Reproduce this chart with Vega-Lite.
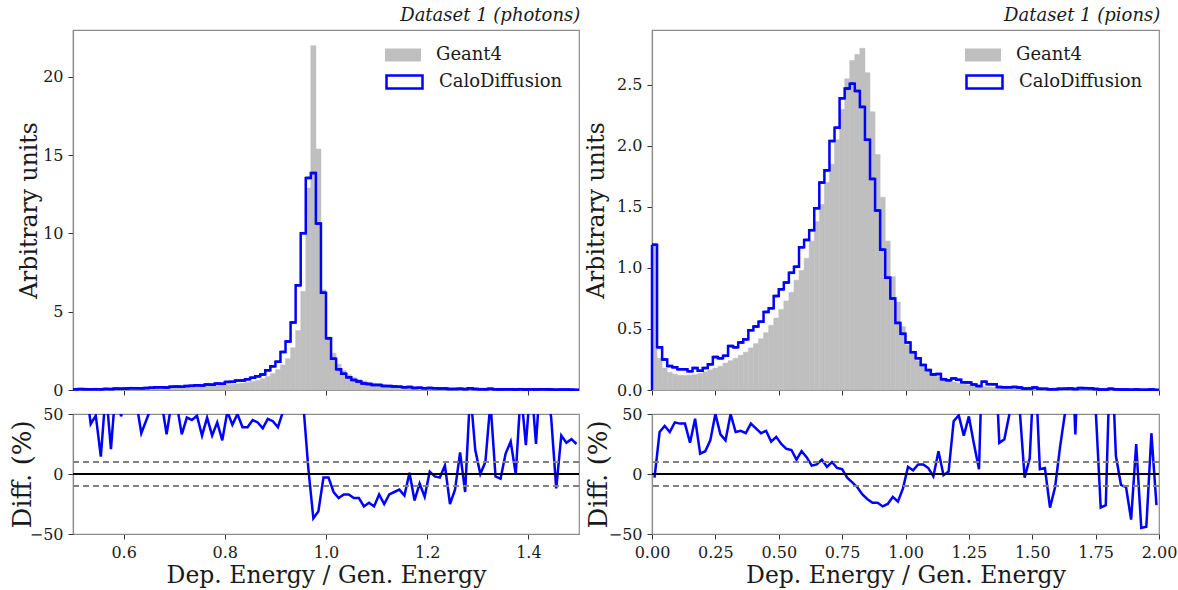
{
  "$schema": "https://vega.github.io/schema/vega-lite/v6.json",
  "padding": {"left": 8, "top": 6, "right": 4, "bottom": 4},
  "background": "white",
  "config": {
    "font": "DejaVu Serif",
    "view": {"stroke": "#8c8c8c", "strokeWidth": 1.2},
    "axis": {"grid": false, "labelFlush": false, "domainColor": "#8c8c8c", "domainWidth": 1.2, "tickColor": "#333333", "tickSize": 5, "tickWidth": 1, "labelFont": "DejaVu Serif", "labelFontSize": 16, "labelColor": "#1a1a1a", "labelPadding": 5, "titleFont": "DejaVu Serif", "titleFontSize": 23.5, "titleFontWeight": "normal", "titleColor": "#1a1a1a"},
    "title": {"font": "DejaVu Serif", "fontSize": 18, "fontStyle": "italic", "fontWeight": "normal", "anchor": "end", "color": "#1a1a1a", "offset": 5},
    "legend": {"orient": "top-right", "offset": 16, "padding": 0, "title": null, "labelFont": "DejaVu Serif", "labelFontSize": 18, "labelColor": "#1a1a1a", "labelOffset": 24, "rowPadding": 8.5, "symbolType": "M-2,-0.72H2V0.72H-2Z", "symbolSize": 324,
      "layout": {"direction": "vertical", "margin": 7.5, "top-right": {"direction": "vertical", "margin": 7.5}}}
  },
  "datasets": {
    "ph_hist": [
      {"x0":0.50,"x1":0.51,"g4":0.026,"calo":0.049},{"x0":0.51,"x1":0.52,"g4":0.028,"calo":0.056},{"x0":0.52,"x1":0.53,"g4":0.030,"calo":0.053},{"x0":0.53,"x1":0.54,"g4":0.033,"calo":0.047},{"x0":0.54,"x1":0.55,"g4":0.036,"calo":0.053},
      {"x0":0.55,"x1":0.56,"g4":0.039,"calo":0.045},{"x0":0.56,"x1":0.57,"g4":0.042,"calo":0.071},{"x0":0.57,"x1":0.58,"g4":0.046,"calo":0.056},{"x0":0.58,"x1":0.59,"g4":0.050,"calo":0.088},{"x0":0.59,"x1":0.60,"g4":0.055,"calo":0.081},
      {"x0":0.60,"x1":0.61,"g4":0.060,"calo":0.099},{"x0":0.61,"x1":0.62,"g4":0.066,"calo":0.119},{"x0":0.62,"x1":0.63,"g4":0.072,"calo":0.115},{"x0":0.63,"x1":0.64,"g4":0.078,"calo":0.105},{"x0":0.64,"x1":0.65,"g4":0.085,"calo":0.123},
      {"x0":0.65,"x1":0.66,"g4":0.092,"calo":0.144},{"x0":0.66,"x1":0.67,"g4":0.100,"calo":0.170},{"x0":0.67,"x1":0.68,"g4":0.110,"calo":0.176},{"x0":0.68,"x1":0.69,"g4":0.120,"calo":0.160},{"x0":0.69,"x1":0.70,"g4":0.130,"calo":0.208},
      {"x0":0.70,"x1":0.71,"g4":0.140,"calo":0.221},{"x0":0.71,"x1":0.72,"g4":0.155,"calo":0.206},{"x0":0.72,"x1":0.73,"g4":0.170,"calo":0.250},{"x0":0.73,"x1":0.74,"g4":0.185,"calo":0.268},{"x0":0.74,"x1":0.75,"g4":0.200,"calo":0.297},
      {"x0":0.75,"x1":0.76,"g4":0.220,"calo":0.290},{"x0":0.76,"x1":0.77,"g4":0.240,"calo":0.353},{"x0":0.77,"x1":0.78,"g4":0.260,"calo":0.343},{"x0":0.78,"x1":0.79,"g4":0.285,"calo":0.408},{"x0":0.79,"x1":0.80,"g4":0.310,"calo":0.397},
      {"x0":0.80,"x1":0.81,"g4":0.340,"calo":0.517},{"x0":0.81,"x1":0.82,"g4":0.370,"calo":0.522},{"x0":0.82,"x1":0.83,"g4":0.400,"calo":0.600},{"x0":0.83,"x1":0.84,"g4":0.440,"calo":0.612},{"x0":0.84,"x1":0.85,"g4":0.490,"calo":0.681},
      {"x0":0.85,"x1":0.86,"g4":0.540,"calo":0.783},{"x0":0.86,"x1":0.87,"g4":0.610,"calo":0.872},{"x0":0.87,"x1":0.88,"g4":0.720,"calo":0.994},{"x0":0.88,"x1":0.89,"g4":0.860,"calo":1.256},{"x0":0.89,"x1":0.90,"g4":1.050,"calo":1.512},
      {"x0":0.90,"x1":0.91,"g4":1.300,"calo":1.807},{"x0":0.91,"x1":0.92,"g4":1.600,"calo":2.432},{"x0":0.92,"x1":0.93,"g4":2.000,"calo":3.100},{"x0":0.93,"x1":0.94,"g4":2.700,"calo":4.320},{"x0":0.94,"x1":0.95,"g4":3.800,"calo":6.690},
      {"x0":0.95,"x1":0.96,"g4":6.300,"calo":10.02},{"x0":0.96,"x1":0.97,"g4":12.90,"calo":13.55},{"x0":0.97,"x1":0.98,"g4":22.00,"calo":13.86},{"x0":0.98,"x1":0.99,"g4":15.40,"calo":10.63},{"x0":0.99,"x1":1.00,"g4":6.400,"calo":6.210},
      {"x0":1.00,"x1":1.01,"g4":3.400,"calo":3.300},{"x0":1.01,"x1":1.02,"g4":2.350,"calo":2.000},{"x0":1.02,"x1":1.03,"g4":1.650,"calo":1.320},{"x0":1.03,"x1":1.04,"g4":1.250,"calo":1.040},{"x0":1.04,"x1":1.05,"g4":0.980,"calo":0.810},
      {"x0":1.05,"x1":1.06,"g4":0.800,"calo":0.640},{"x0":1.06,"x1":1.07,"g4":0.680,"calo":0.544},{"x0":1.07,"x1":1.08,"g4":0.580,"calo":0.423},{"x0":1.08,"x1":1.09,"g4":0.500,"calo":0.380},{"x0":1.09,"x1":1.10,"g4":0.440,"calo":0.321},
      {"x0":1.10,"x1":1.11,"g4":0.390,"calo":0.324},{"x0":1.11,"x1":1.12,"g4":0.340,"calo":0.255},{"x0":1.12,"x1":1.13,"g4":0.300,"calo":0.249},{"x0":1.13,"x1":1.14,"g4":0.270,"calo":0.230},{"x0":1.14,"x1":1.15,"g4":0.240,"calo":0.209},
      {"x0":1.15,"x1":1.16,"g4":0.210,"calo":0.172},{"x0":1.16,"x1":1.17,"g4":0.190,"calo":0.192},{"x0":1.17,"x1":1.18,"g4":0.170,"calo":0.133},{"x0":1.18,"x1":1.19,"g4":0.155,"calo":0.143},{"x0":1.19,"x1":1.20,"g4":0.140,"calo":0.113},
      {"x0":1.20,"x1":1.21,"g4":0.127,"calo":0.130},{"x0":1.21,"x1":1.22,"g4":0.115,"calo":0.113},{"x0":1.22,"x1":1.23,"g4":0.105,"calo":0.102},{"x0":1.23,"x1":1.24,"g4":0.096,"calo":0.103},{"x0":1.24,"x1":1.25,"g4":0.088,"calo":0.066},
      {"x0":1.25,"x1":1.26,"g4":0.080,"calo":0.070},{"x0":1.26,"x1":1.27,"g4":0.073,"calo":0.086},{"x0":1.27,"x1":1.28,"g4":0.067,"calo":0.057},{"x0":1.28,"x1":1.29,"g4":0.062,"calo":0.105},{"x0":1.29,"x1":1.30,"g4":0.057,"calo":0.068},
      {"x0":1.30,"x1":1.31,"g4":0.053,"calo":0.053},{"x0":1.31,"x1":1.32,"g4":0.049,"calo":0.054},{"x0":1.32,"x1":1.33,"g4":0.046,"calo":0.074},{"x0":1.33,"x1":1.34,"g4":0.043,"calo":0.042},{"x0":1.34,"x1":1.35,"g4":0.040,"calo":0.038},
      {"x0":1.35,"x1":1.36,"g4":0.037,"calo":0.043},{"x0":1.36,"x1":1.37,"g4":0.035,"calo":0.044},{"x0":1.37,"x1":1.38,"g4":0.033,"calo":0.033},{"x0":1.38,"x1":1.39,"g4":0.031,"calo":0.053},{"x0":1.39,"x1":1.40,"g4":0.029,"calo":0.036},
      {"x0":1.40,"x1":1.41,"g4":0.027,"calo":0.049},{"x0":1.41,"x1":1.42,"g4":0.026,"calo":0.033},{"x0":1.42,"x1":1.43,"g4":0.024,"calo":0.046},{"x0":1.43,"x1":1.44,"g4":0.023,"calo":0.040},{"x0":1.44,"x1":1.45,"g4":0.022,"calo":0.032},
      {"x0":1.45,"x1":1.46,"g4":0.021,"calo":0.018},{"x0":1.46,"x1":1.47,"g4":0.020,"calo":0.026},{"x0":1.47,"x1":1.48,"g4":0.019,"calo":0.024},{"x0":1.48,"x1":1.49,"g4":0.018,"calo":0.023},{"x0":1.49,"x1":1.50,"g4":0.017,"calo":0.021}
    ],
    "ph_diff": [
      {"x":0.505,"diff":90},{"x":0.515,"diff":100},{"x":0.525,"diff":75},{"x":0.535,"diff":41.7},{"x":0.545,"diff":48.6},{"x":0.555,"diff":14.4},{"x":0.565,"diff":70},{"x":0.575,"diff":20.8},{"x":0.585,"diff":75},{"x":0.595,"diff":48},
      {"x":0.605,"diff":65},{"x":0.615,"diff":80},{"x":0.625,"diff":60},{"x":0.635,"diff":34},{"x":0.645,"diff":45},{"x":0.655,"diff":56},{"x":0.665,"diff":70},{"x":0.675,"diff":60},{"x":0.685,"diff":33},{"x":0.695,"diff":60},
      {"x":0.705,"diff":58},{"x":0.715,"diff":33},{"x":0.725,"diff":47},{"x":0.735,"diff":45},{"x":0.745,"diff":48.6},{"x":0.755,"diff":32},{"x":0.765,"diff":47},{"x":0.775,"diff":32},{"x":0.785,"diff":43},{"x":0.795,"diff":28},
      {"x":0.805,"diff":52},{"x":0.815,"diff":41},{"x":0.825,"diff":50},{"x":0.835,"diff":39},{"x":0.845,"diff":39},{"x":0.855,"diff":45},{"x":0.865,"diff":43},{"x":0.875,"diff":38},{"x":0.885,"diff":46},{"x":0.895,"diff":44},
      {"x":0.905,"diff":39},{"x":0.915,"diff":52},{"x":0.925,"diff":55},{"x":0.935,"diff":60},{"x":0.945,"diff":76},{"x":0.955,"diff":59},{"x":0.965,"diff":5},{"x":0.975,"diff":-37},{"x":0.985,"diff":-31},{"x":0.995,"diff":-3},
      {"x":1.005,"diff":-3},{"x":1.015,"diff":-15},{"x":1.025,"diff":-20},{"x":1.035,"diff":-17},{"x":1.045,"diff":-17},{"x":1.055,"diff":-20},{"x":1.065,"diff":-20},{"x":1.075,"diff":-27},{"x":1.085,"diff":-24},{"x":1.095,"diff":-27},
      {"x":1.105,"diff":-17},{"x":1.115,"diff":-25},{"x":1.125,"diff":-17},{"x":1.135,"diff":-15},{"x":1.145,"diff":-13},{"x":1.155,"diff":-18},{"x":1.165,"diff":1},{"x":1.175,"diff":-22},{"x":1.185,"diff":-8},{"x":1.195,"diff":-19},
      {"x":1.205,"diff":2},{"x":1.215,"diff":-2},{"x":1.225,"diff":-3},{"x":1.235,"diff":7},{"x":1.245,"diff":-25},{"x":1.255,"diff":-13},{"x":1.265,"diff":18},{"x":1.275,"diff":-15},{"x":1.285,"diff":70},{"x":1.295,"diff":20},
      {"x":1.305,"diff":0},{"x":1.315,"diff":10},{"x":1.325,"diff":60},{"x":1.335,"diff":-2},{"x":1.345,"diff":-4},{"x":1.355,"diff":17},{"x":1.365,"diff":27},{"x":1.375,"diff":0},{"x":1.385,"diff":70},{"x":1.395,"diff":24},
      {"x":1.405,"diff":80},{"x":1.415,"diff":25},{"x":1.425,"diff":90},{"x":1.435,"diff":75},{"x":1.445,"diff":47},{"x":1.455,"diff":-12},{"x":1.465,"diff":32},{"x":1.475,"diff":26},{"x":1.485,"diff":29},{"x":1.495,"diff":25}
    ],
    "pi_hist": [
      {"x0":0.00,"x1":0.02,"g4":1.18,"calo":1.19},{"x0":0.02,"x1":0.04,"g4":0.26,"calo":0.35},{"x0":0.04,"x1":0.06,"g4":0.18,"calo":0.25},{"x0":0.06,"x1":0.08,"g4":0.145,"calo":0.196},{"x0":0.08,"x1":0.10,"g4":0.13,"calo":0.186},
      {"x0":0.10,"x1":0.12,"g4":0.12,"calo":0.17},{"x0":0.12,"x1":0.14,"g4":0.12,"calo":0.17},{"x0":0.14,"x1":0.16,"g4":0.122,"calo":0.154},{"x0":0.16,"x1":0.18,"g4":0.125,"calo":0.18},{"x0":0.18,"x1":0.20,"g4":0.135,"calo":0.158},
      {"x0":0.20,"x1":0.22,"g4":0.15,"calo":0.18},{"x0":0.22,"x1":0.24,"g4":0.165,"calo":0.21},{"x0":0.24,"x1":0.26,"g4":0.18,"calo":0.27},{"x0":0.26,"x1":0.28,"g4":0.195,"calo":0.26},{"x0":0.28,"x1":0.30,"g4":0.22,"calo":0.28},
      {"x0":0.30,"x1":0.32,"g4":0.24,"calo":0.36},{"x0":0.32,"x1":0.34,"g4":0.26,"calo":0.35},{"x0":0.34,"x1":0.36,"g4":0.285,"calo":0.39},{"x0":0.36,"x1":0.38,"g4":0.31,"calo":0.415},{"x0":0.38,"x1":0.40,"g4":0.345,"calo":0.49},
      {"x0":0.40,"x1":0.42,"g4":0.38,"calo":0.52},{"x0":0.42,"x1":0.44,"g4":0.42,"calo":0.56},{"x0":0.44,"x1":0.46,"g4":0.47,"calo":0.64},{"x0":0.46,"x1":0.48,"g4":0.53,"calo":0.67},{"x0":0.48,"x1":0.50,"g4":0.59,"calo":0.77},
      {"x0":0.50,"x1":0.52,"g4":0.66,"calo":0.825},{"x0":0.52,"x1":0.54,"g4":0.73,"calo":0.88},{"x0":0.54,"x1":0.56,"g4":0.80,"calo":0.96},{"x0":0.56,"x1":0.58,"g4":0.90,"calo":1.01},{"x0":0.58,"x1":0.60,"g4":0.98,"calo":1.17},
      {"x0":0.60,"x1":0.62,"g4":1.08,"calo":1.23},{"x0":0.62,"x1":0.64,"g4":1.22,"calo":1.31},{"x0":0.64,"x1":0.66,"g4":1.38,"calo":1.49},{"x0":0.66,"x1":0.68,"g4":1.52,"calo":1.70},{"x0":0.68,"x1":0.70,"g4":1.70,"calo":1.80},
      {"x0":0.70,"x1":0.72,"g4":1.85,"calo":2.04},{"x0":0.72,"x1":0.74,"g4":2.05,"calo":2.15},{"x0":0.74,"x1":0.76,"g4":2.30,"calo":2.39},{"x0":0.76,"x1":0.78,"g4":2.55,"calo":2.47},{"x0":0.78,"x1":0.80,"g4":2.70,"calo":2.51},
      {"x0":0.80,"x1":0.82,"g4":2.75,"calo":2.45},{"x0":0.82,"x1":0.84,"g4":2.80,"calo":2.32},{"x0":0.84,"x1":0.86,"g4":2.60,"calo":2.05},{"x0":0.86,"x1":0.88,"g4":2.28,"calo":1.73},{"x0":0.88,"x1":0.90,"g4":1.93,"calo":1.47},
      {"x0":0.90,"x1":0.92,"g4":1.58,"calo":1.15},{"x0":0.92,"x1":0.94,"g4":1.22,"calo":0.92},{"x0":0.94,"x1":0.96,"g4":0.93,"calo":0.75},{"x0":0.96,"x1":0.98,"g4":0.72,"calo":0.55},{"x0":0.98,"x1":1.00,"g4":0.52,"calo":0.46},
      {"x0":1.00,"x1":1.02,"g4":0.37,"calo":0.39},{"x0":1.02,"x1":1.04,"g4":0.30,"calo":0.31},{"x0":1.04,"x1":1.06,"g4":0.24,"calo":0.26},{"x0":1.06,"x1":1.08,"g4":0.19,"calo":0.205},{"x0":1.08,"x1":1.10,"g4":0.155,"calo":0.163},
      {"x0":1.10,"x1":1.12,"g4":0.13,"calo":0.127},{"x0":1.12,"x1":1.14,"g4":0.11,"calo":0.131},{"x0":1.14,"x1":1.16,"g4":0.09,"calo":0.089},{"x0":1.16,"x1":1.18,"g4":0.078,"calo":0.08},{"x0":1.18,"x1":1.20,"g4":0.066,"calo":0.095},
      {"x0":1.20,"x1":1.22,"g4":0.056,"calo":0.083},{"x0":1.22,"x1":1.24,"g4":0.048,"calo":0.063},{"x0":1.24,"x1":1.26,"g4":0.042,"calo":0.062},{"x0":1.26,"x1":1.28,"g4":0.036,"calo":0.045},{"x0":1.28,"x1":1.30,"g4":0.031,"calo":0.032},
      {"x0":1.30,"x1":1.32,"g4":0.027,"calo":0.068},{"x0":1.32,"x1":1.34,"g4":0.024,"calo":0.048},{"x0":1.34,"x1":1.36,"g4":0.021,"calo":0.047},{"x0":1.36,"x1":1.38,"g4":0.019,"calo":0.024},{"x0":1.38,"x1":1.40,"g4":0.017,"calo":0.022},
      {"x0":1.40,"x1":1.42,"g4":0.015,"calo":0.0225},{"x0":1.42,"x1":1.44,"g4":0.014,"calo":0.025},{"x0":1.44,"x1":1.46,"g4":0.013,"calo":0.020},{"x0":1.46,"x1":1.48,"g4":0.012,"calo":0.0116},{"x0":1.48,"x1":1.50,"g4":0.011,"calo":0.0124},
      {"x0":1.50,"x1":1.52,"g4":0.010,"calo":0.020},{"x0":1.52,"x1":1.54,"g4":0.0095,"calo":0.0099},{"x0":1.54,"x1":1.56,"g4":0.009,"calo":0.0095},{"x0":1.56,"x1":1.58,"g4":0.0085,"calo":0.0061},{"x0":1.58,"x1":1.60,"g4":0.008,"calo":0.0071},
      {"x0":1.60,"x1":1.62,"g4":0.0077,"calo":0.0095},{"x0":1.62,"x1":1.64,"g4":0.0074,"calo":0.0112},{"x0":1.64,"x1":1.66,"g4":0.007,"calo":0.0126},{"x0":1.66,"x1":1.68,"g4":0.0067,"calo":0.0089},{"x0":1.68,"x1":1.70,"g4":0.0064,"calo":0.0154},
      {"x0":1.70,"x1":1.72,"g4":0.0061,"calo":0.0153},{"x0":1.72,"x1":1.74,"g4":0.0058,"calo":0.0134},{"x0":1.74,"x1":1.76,"g4":0.0055,"calo":0.0085},{"x0":1.76,"x1":1.78,"g4":0.0052,"calo":0.0037},{"x0":1.78,"x1":1.80,"g4":0.005,"calo":0.0037},
      {"x0":1.80,"x1":1.82,"g4":0.0048,"calo":0.0106},{"x0":1.82,"x1":1.84,"g4":0.0046,"calo":0.0053},{"x0":1.84,"x1":1.86,"g4":0.0044,"calo":0.004},{"x0":1.86,"x1":1.88,"g4":0.0042,"calo":0.0037},{"x0":1.88,"x1":1.90,"g4":0.004,"calo":0.0025},
      {"x0":1.90,"x1":1.92,"g4":0.0038,"calo":0.0048},{"x0":1.92,"x1":1.94,"g4":0.0036,"calo":0.002},{"x0":1.94,"x1":1.96,"g4":0.0034,"calo":0.0019},{"x0":1.96,"x1":1.98,"g4":0.0032,"calo":0.0043},{"x0":1.98,"x1":2.00,"g4":0.003,"calo":0.0022}
    ],
    "pi_diff": [
      {"x":0.01,"diff":-3},{"x":0.03,"diff":35},{"x":0.05,"diff":40},{"x":0.07,"diff":35},{"x":0.09,"diff":43},{"x":0.11,"diff":42},{"x":0.13,"diff":42},{"x":0.15,"diff":26},{"x":0.17,"diff":46},{"x":0.19,"diff":17},
      {"x":0.21,"diff":19},{"x":0.23,"diff":28},{"x":0.25,"diff":50},{"x":0.27,"diff":33},{"x":0.29,"diff":28},{"x":0.31,"diff":50},{"x":0.33,"diff":35},{"x":0.35,"diff":36},{"x":0.37,"diff":34},{"x":0.39,"diff":42},
      {"x":0.41,"diff":38},{"x":0.43,"diff":34},{"x":0.45,"diff":36},{"x":0.47,"diff":27},{"x":0.49,"diff":31},{"x":0.51,"diff":25},{"x":0.53,"diff":21},{"x":0.55,"diff":20},{"x":0.57,"diff":12},{"x":0.59,"diff":19},
      {"x":0.61,"diff":14},{"x":0.63,"diff":7},{"x":0.65,"diff":8},{"x":0.67,"diff":12},{"x":0.69,"diff":6},{"x":0.71,"diff":10},{"x":0.73,"diff":5},{"x":0.75,"diff":4},{"x":0.77,"diff":-3},{"x":0.79,"diff":-7},
      {"x":0.81,"diff":-11},{"x":0.83,"diff":-17},{"x":0.85,"diff":-21},{"x":0.87,"diff":-24},{"x":0.89,"diff":-24},{"x":0.91,"diff":-27},{"x":0.93,"diff":-25},{"x":0.95,"diff":-19},{"x":0.97,"diff":-23},{"x":0.99,"diff":-12},
      {"x":1.01,"diff":6},{"x":1.03,"diff":3},{"x":1.05,"diff":8},{"x":1.07,"diff":8},{"x":1.09,"diff":5},{"x":1.11,"diff":-2},{"x":1.13,"diff":19},{"x":1.15,"diff":-1},{"x":1.17,"diff":2},{"x":1.19,"diff":44},
      {"x":1.21,"diff":49},{"x":1.23,"diff":32},{"x":1.25,"diff":48},{"x":1.27,"diff":25},{"x":1.29,"diff":4},{"x":1.31,"diff":150},{"x":1.33,"diff":100},{"x":1.35,"diff":120},{"x":1.37,"diff":26},{"x":1.39,"diff":29},
      {"x":1.41,"diff":50},{"x":1.43,"diff":80},{"x":1.45,"diff":55},{"x":1.47,"diff":-3},{"x":1.49,"diff":13},{"x":1.51,"diff":100},{"x":1.53,"diff":4},{"x":1.55,"diff":5},{"x":1.57,"diff":-28},{"x":1.59,"diff":-11},
      {"x":1.61,"diff":23},{"x":1.63,"diff":52},{"x":1.65,"diff":140},{"x":1.67,"diff":33},{"x":1.69,"diff":140},{"x":1.71,"diff":150},{"x":1.73,"diff":130},{"x":1.75,"diff":55},{"x":1.77,"diff":-28},{"x":1.79,"diff":-26},
      {"x":1.81,"diff":120},{"x":1.83,"diff":15},{"x":1.85,"diff":-9},{"x":1.87,"diff":-11},{"x":1.89,"diff":-38},{"x":1.91,"diff":25},{"x":1.93,"diff":-45},{"x":1.95,"diff":-44},{"x":1.97,"diff":34},{"x":1.99,"diff":-26}
    ]
  },
  "resolve": {"scale": {"fill": "independent", "stroke": "independent"}, "legend": {"fill": "independent", "stroke": "independent"}},
  "bounds": "flush",
  "columns": 2,
  "spacing": {"row": 24, "column": 73},
  "concat": [
    {
      "title": "Dataset 1 (photons)",
      "width": 506,
      "height": 360,
      "data": {"name": "ph_hist"},
      "layer": [
        {
          "mark": {"type": "rect", "stroke": "#bfbfbf", "strokeWidth": 0.5},
          "encoding": {
            "x": {"field": "x0", "type": "quantitative", "scale": {"domain": [0.5, 1.5], "nice": false, "zero": false}, "axis": {"values": [0.6, 0.8, 1.0, 1.2, 1.4], "labels": false, "title": null}},
            "x2": {"field": "x1"},
            "y": {"field": "g4", "type": "quantitative", "scale": {"domain": [0, 23], "nice": false}, "axis": {"values": [0, 5, 10, 15, 20], "title": "Arbitrary units", "titleX": -44, "titleY": 180, "titleAngle": -90, "titleBaseline": "middle", "titleAlign": "center"}},
            "y2": {"datum": 0},
            "fill": {"datum": "Geant4", "type": "nominal", "scale": {"domain": ["Geant4"], "range": ["#bfbfbf"]}, "legend": {"symbolType": "M-2,-0.72H2V0.72H-2Z", "symbolStrokeWidth": 0}}
          }
        },
        {
          "mark": {"type": "rule", "color": "#0000ff", "strokeWidth": 2.5},
          "encoding": {"x": {"field": "x0", "type": "quantitative"}, "x2": {"field": "x1"}, "y": {"field": "calo", "type": "quantitative"}}
        },
        {
          "mark": {"type": "line", "interpolate": "step-after", "strokeWidth": 2.5},
          "encoding": {"x": {"field": "x0", "type": "quantitative"}, "y": {"field": "calo", "type": "quantitative"},
            "stroke": {"datum": "CaloDiffusion", "type": "nominal", "scale": {"domain": ["CaloDiffusion"], "range": ["#0000ff"]}, "legend": {"symbolType": "M-2,-0.72H2V0.72H-2Z", "symbolFillColor": "transparent", "symbolStrokeWidth": 2.5}}}
        }
      ]
    },
    {
      "title": "Dataset 1 (pions)",
      "width": 507,
      "height": 360,
      "data": {"name": "pi_hist"},
      "layer": [
        {
          "mark": {"type": "rect", "stroke": "#bfbfbf", "strokeWidth": 0.5},
          "encoding": {
            "x": {"field": "x0", "type": "quantitative", "scale": {"domain": [0, 2], "nice": false, "zero": false}, "axis": {"values": [0, 0.25, 0.5, 0.75, 1.0, 1.25, 1.5, 1.75, 2.0], "labels": false, "title": null}},
            "x2": {"field": "x1"},
            "y": {"field": "g4", "type": "quantitative", "scale": {"domain": [0, 2.95], "nice": false}, "axis": {"values": [0, 0.5, 1.0, 1.5, 2.0, 2.5], "format": ".1f", "title": "Arbitrary units", "titleX": -56, "titleY": 180, "titleAngle": -90, "titleBaseline": "middle", "titleAlign": "center"}},
            "y2": {"datum": 0},
            "fill": {"datum": "Geant4", "type": "nominal", "scale": {"domain": ["Geant4"], "range": ["#bfbfbf"]}, "legend": {"symbolType": "M-2,-0.72H2V0.72H-2Z", "symbolStrokeWidth": 0}}
          }
        },
        {
          "mark": {"type": "rule", "color": "#0000ff", "strokeWidth": 2.5},
          "encoding": {"x": {"field": "x0", "type": "quantitative"}, "x2": {"field": "x1"}, "y": {"field": "calo", "type": "quantitative"}}
        },
        {
          "mark": {"type": "line", "interpolate": "step-after", "strokeWidth": 2.5},
          "encoding": {"x": {"field": "x0", "type": "quantitative"}, "y": {"field": "calo", "type": "quantitative"},
            "stroke": {"datum": "CaloDiffusion", "type": "nominal", "scale": {"domain": ["CaloDiffusion"], "range": ["#0000ff"]}, "legend": {"symbolType": "M-2,-0.72H2V0.72H-2Z", "symbolFillColor": "transparent", "symbolStrokeWidth": 2.5}}}
        },
        {
          "transform": [{"filter": "datum.x0 < 0.005"}],
          "mark": {"type": "rule", "color": "#0000ff", "strokeWidth": 2.5},
          "encoding": {"x": {"field": "x0", "type": "quantitative"}, "y": {"field": "calo", "type": "quantitative"}, "y2": {"datum": 0}}
        }
      ]
    },
    {
      "width": 506,
      "height": 120,
      "data": {"name": "ph_diff"},
      "layer": [
        {
          "mark": {"type": "line", "color": "#0000ff", "strokeWidth": 2.5, "clip": true},
          "encoding": {
            "x": {"field": "x", "type": "quantitative", "scale": {"domain": [0.5, 1.5], "nice": false, "zero": false}, "axis": {"values": [0.6, 0.8, 1.0, 1.2, 1.4], "format": ".1f", "title": "Dep. Energy / Gen. Energy", "titleY": 48, "titleBaseline": "alphabetic"}},
            "y": {"field": "diff", "type": "quantitative", "scale": {"domain": [-50, 50], "nice": false}, "axis": {"values": [-50, 0, 50], "title": "Diff. (%)", "titleFontSize": 26, "titleX": -51, "titleY": 60, "titleAngle": -90, "titleBaseline": "middle", "titleAlign": "center"}}
          }
        },
        {"mark": {"type": "rule", "color": "#808080", "strokeDash": [6, 4], "strokeWidth": 1.5}, "encoding": {"y": {"datum": 10}}},
        {"mark": {"type": "rule", "color": "#808080", "strokeDash": [6, 4], "strokeWidth": 1.5}, "encoding": {"y": {"datum": -10}}},
        {"mark": {"type": "rule", "color": "#000000", "strokeWidth": 1.5}, "encoding": {"y": {"datum": 0}}}
      ]
    },
    {
      "width": 507,
      "height": 120,
      "data": {"name": "pi_diff"},
      "layer": [
        {
          "mark": {"type": "line", "color": "#0000ff", "strokeWidth": 2.5, "clip": true},
          "encoding": {
            "x": {"field": "x", "type": "quantitative", "scale": {"domain": [0, 2], "nice": false, "zero": false}, "axis": {"values": [0, 0.25, 0.5, 0.75, 1.0, 1.25, 1.5, 1.75, 2.0], "format": ".2f", "title": "Dep. Energy / Gen. Energy", "titleY": 48, "titleBaseline": "alphabetic"}},
            "y": {"field": "diff", "type": "quantitative", "scale": {"domain": [-50, 50], "nice": false}, "axis": {"values": [-50, 0, 50], "title": "Diff. (%)", "titleFontSize": 26, "titleX": -54, "titleY": 60, "titleAngle": -90, "titleBaseline": "middle", "titleAlign": "center"}}
          }
        },
        {"mark": {"type": "rule", "color": "#808080", "strokeDash": [6, 4], "strokeWidth": 1.5}, "encoding": {"y": {"datum": 10}}},
        {"mark": {"type": "rule", "color": "#808080", "strokeDash": [6, 4], "strokeWidth": 1.5}, "encoding": {"y": {"datum": -10}}},
        {"mark": {"type": "rule", "color": "#000000", "strokeWidth": 1.5}, "encoding": {"y": {"datum": 0}}}
      ]
    }
  ]
}
